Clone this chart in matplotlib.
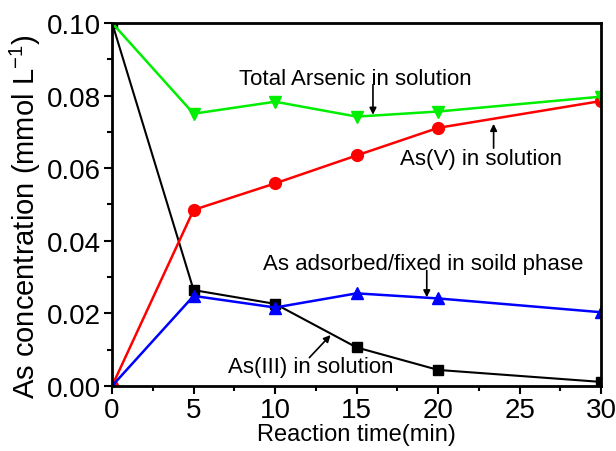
import matplotlib.pyplot as plt
from matplotlib.ticker import MultipleLocator

plt.rcParams["font.family"] = ["Liberation Sans", "DejaVu Sans"]

time_min = [0, 5, 10, 15, 20, 30]
as_total = [0.100, 0.0750, 0.0783, 0.0742, 0.0756, 0.0797]
as_v = [0.000, 0.0485, 0.0558, 0.0635, 0.0711, 0.0785]
as_solid = [0.000, 0.0248, 0.0216, 0.0255, 0.0241, 0.0203]
as_iii = [0.100, 0.0264, 0.0226, 0.0106, 0.0044, 0.0011]


def main():
    fig = plt.figure(figsize=(6.16, 4.52), dpi=100)
    ax = fig.add_axes([0.182, 0.144, 0.794, 0.803])

    ax.plot(time_min, as_iii, color="black", marker="s", ms=7.5, lw=1.5)
    ax.plot(time_min, as_v, color="#ff0000", marker="o", ms=8.5, lw=1.8)
    ax.plot(time_min, as_solid, color="#0000ff", marker="^", ms=9, lw=1.8)
    ax.plot(time_min, as_total, color="#00ee00", marker="v", ms=9, lw=1.8)

    ax.set_xlim(0, 30)
    ax.set_ylim(0, 0.10)
    ax.xaxis.set_major_locator(MultipleLocator(5))
    ax.xaxis.set_minor_locator(MultipleLocator(2.5))
    ax.yaxis.set_major_locator(MultipleLocator(0.02))
    ax.yaxis.set_minor_locator(MultipleLocator(0.01))
    ax.yaxis.set_major_formatter(lambda v, pos: f"{v:.2f}")
    ax.tick_params(which="both", direction="out", width=1.5, labelsize=20,
                   top=False, right=False)
    ax.tick_params(which="major", length=6, pad=2)
    ax.tick_params(which="minor", length=3.5)
    for sp in ax.spines.values():
        sp.set_linewidth(2)

    ax.set_xlabel("Reaction time(min)", fontsize=17, labelpad=0)
    ax.set_ylabel("As concentration (mmol L$^{\\mathregular{-1}}$)",
                  fontsize=21, labelpad=0)
    ax.yaxis.set_label_coords(-0.142, 0.47)

    arrow = dict(arrowstyle="-|>", color="black", lw=1.2, mutation_scale=10,
                 shrinkA=0, shrinkB=0)
    ax.text(14.9, 0.0846, "Total Arsenic in solution", fontsize=16,
            ha="center", va="center")
    ax.annotate("", xy=(16.0, 0.0747), xytext=(16.0, 0.0830), arrowprops=arrow)

    ax.text(22.6, 0.0626, "As(V) in solution", fontsize=16,
            ha="center", va="center")
    ax.annotate("", xy=(23.4, 0.0722), xytext=(23.4, 0.0655), arrowprops=arrow)

    ax.text(19.1, 0.0338, "As adsorbed/fixed in soild phase", fontsize=16,
            ha="center", va="center")
    ax.annotate("", xy=(19.3, 0.0244), xytext=(19.3, 0.0318), arrowprops=arrow)

    ax.text(12.2, 0.0053, "As(III) in solution", fontsize=16,
            ha="center", va="center")
    ax.annotate("", xy=(13.4, 0.0140), xytext=(12.1, 0.0078), arrowprops=arrow)

    fig.savefig("out.png", dpi=100)
    plt.close(fig)


if __name__ == "__main__":
    main()
